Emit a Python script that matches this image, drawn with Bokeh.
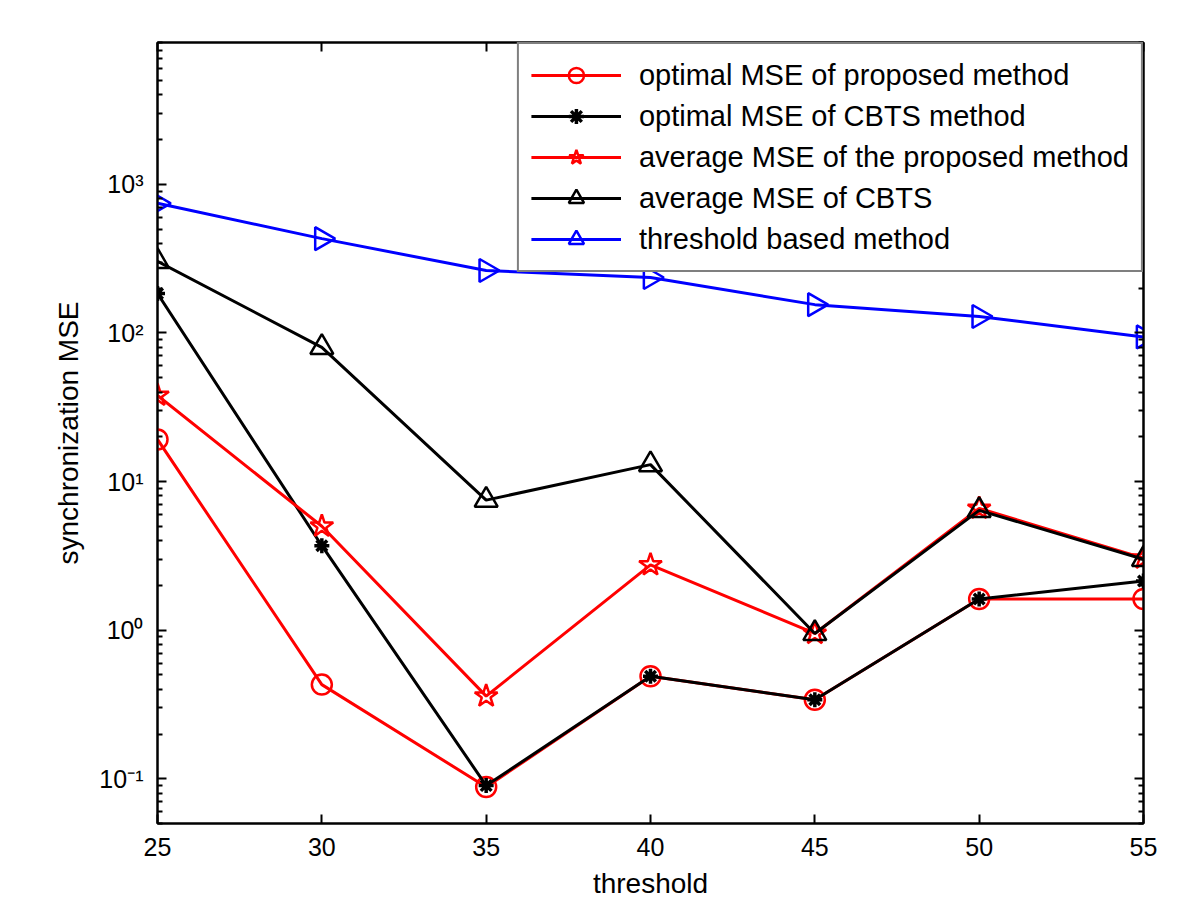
import math
from bokeh.plotting import figure
from bokeh.models import (Range1d, FixedTicker, Legend, LegendItem, LogAxis, LinearAxis)
from bokeh.embed import file_html
from bokeh.resources import INLINE

threshold = [25, 30, 35, 40, 45, 50, 55]
opt_proposed = [19.2, 0.43, 0.088, 0.49, 0.34, 1.62, 1.62]
opt_cbts = [184, 3.7, 0.09, 0.49, 0.34, 1.62, 2.14]
avg_proposed = [38, 5.0, 0.36, 2.75, 0.95, 6.6, 3.05]
avg_cbts = [303, 80, 7.5, 13, 0.95, 6.4, 3.0]
thr_based = [745, 431, 263, 236, 155, 129, 94]

y_tick_vals = [0.1, 1, 10, 100, 1000]
y_tick_labels = ["10⁻¹", "10⁰", "10¹", "10²", "10³"]
x_tick_vals = [25, 30, 35, 40, 45, 50, 55]

FONT = "Liberation Sans"

p = figure(width=1192, height=908, x_range=Range1d(25, 55), y_range=Range1d(0.05, 9000),
           y_axis_type="log", output_backend="svg", toolbar_location=None,
           min_border_left=157, min_border_right=49, min_border_top=42, min_border_bottom=85)
p.xgrid.visible = False
p.ygrid.visible = False
p.outline_line_color = "black"
p.outline_line_width = 2
p.background_fill_color = "white"
p.border_fill_color = "white"

minor = [m * 10 ** e for e in range(-2, 4) for m in range(2, 10) if 0.05 <= m * 10 ** e <= 9000]

def style_axis(ax, labels=True):
    ax.axis_line_color = "black"
    ax.axis_line_width = 2
    ax.major_tick_in = 9
    ax.major_tick_out = 0
    ax.minor_tick_in = 5
    ax.minor_tick_out = 0
    ax.major_tick_line_width = 2
    ax.minor_tick_line_width = 2
    ax.major_tick_line_color = "black"
    ax.minor_tick_line_color = "black"
    ax.major_label_text_font = FONT
    ax.major_label_text_font_size = "25px"
    ax.major_label_text_color = "black"
    ax.axis_label_text_font = FONT
    ax.axis_label_text_font_size = "28px"
    ax.axis_label_text_font_style = "normal"
    ax.axis_label_text_color = "black"
    if not labels:
        ax.major_label_text_color = None

yax = p.yaxis[0]
yax.ticker = FixedTicker(ticks=y_tick_vals, minor_ticks=minor)
yax.major_label_overrides = {v: l for v, l in zip(y_tick_vals, y_tick_labels)}
yax.axis_label = "synchronization MSE"
yax.major_label_standoff = 14
yax.axis_label_standoff = 12
style_axis(yax)

xax = p.xaxis[0]
xax.ticker = FixedTicker(ticks=x_tick_vals)
xax.axis_label = "threshold"
xax.major_label_standoff = 14
xax.axis_label_standoff = 9
style_axis(xax)
xax.minor_tick_in = 0

rax = LogAxis(ticker=FixedTicker(ticks=y_tick_vals, minor_ticks=minor))
style_axis(rax, labels=False)
p.add_layout(rax, "right")
tax = LinearAxis(ticker=FixedTicker(ticks=x_tick_vals))
style_axis(tax, labels=False)
tax.minor_tick_in = 0
p.add_layout(tax, "above")

LW = 3
items = []

def series(ys, color, marker, size, label, angle=0.0, mlw=2.5):
    l = p.line(threshold, ys, line_color=color, line_width=LW)
    s = p.scatter(threshold, ys, marker=marker, size=size, line_color=color,
                  fill_color=None, line_width=mlw, angle=angle)
    items.append(LegendItem(label=label, renderers=[l, s]))

series(opt_proposed, "#ff0000", "circle", 20, "optimal MSE of proposed method")
series(opt_cbts, "black", "asterisk", 15, "optimal MSE of CBTS method", mlw=3.5)
series(avg_proposed, "#ff0000", "star", 24, "average MSE of the proposed method")
series(avg_cbts, "black", "triangle", 23, "average MSE of CBTS")
series(thr_based, "#0000ff", "triangle", 23, "threshold based method", angle=-math.pi / 2)

legend = Legend(items=items, location="top_right")
legend.border_line_color = "black"
legend.border_line_width = 2
legend.background_fill_alpha = 1
legend.label_text_font = FONT
legend.label_text_font_size = "29px"
legend.label_text_color = "black"
legend.glyph_width = 90
legend.glyph_height = 38
legend.label_height = 38
legend.spacing = 3
legend.padding = 12
legend.margin = 0
legend.label_standoff = 18
p.add_layout(legend)

open("out.html", "w").write(file_html(p, INLINE))
